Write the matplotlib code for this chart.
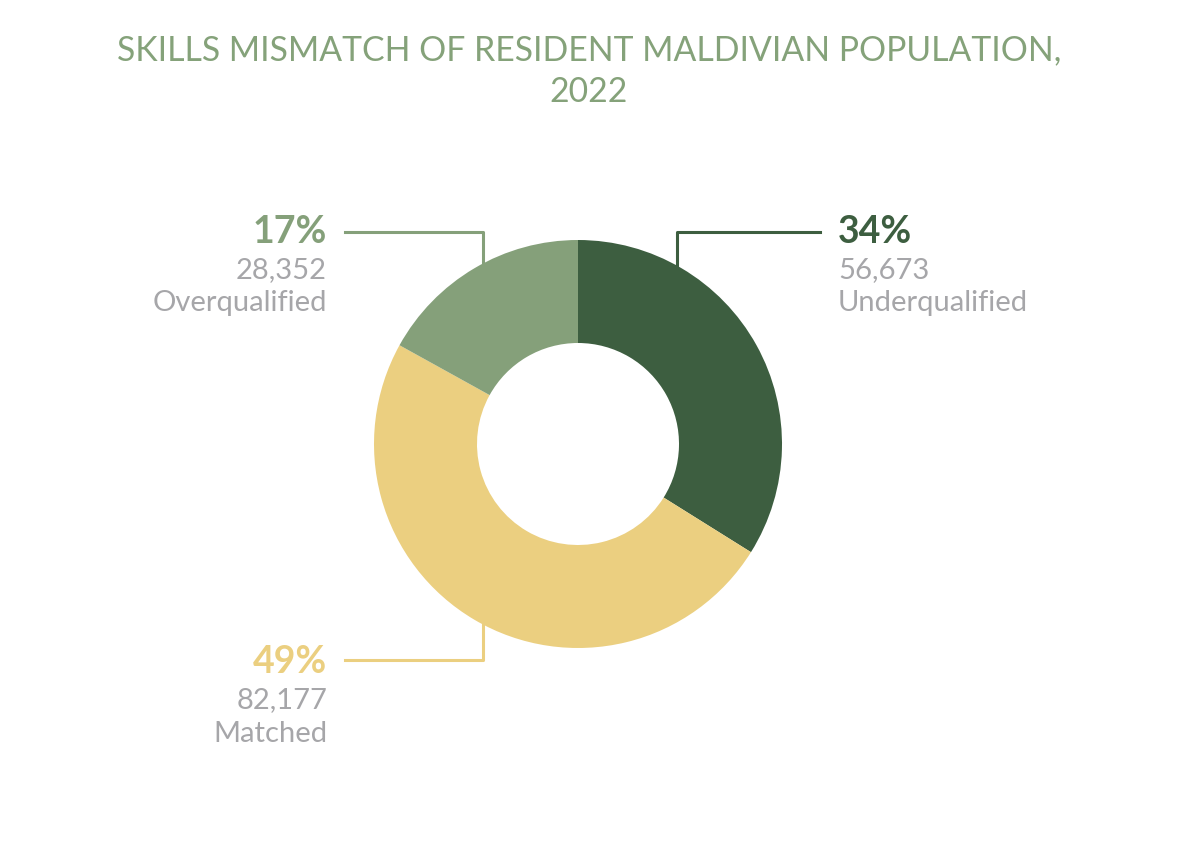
import matplotlib.pyplot as plt

# Дані діаграми
categories = ['Underqualified', 'Matched', 'Overqualified']
counts = [56673, 82177, 28352]
shares = [34, 49, 17]
colors = ['#3d5e40', '#ebcf80', '#85a07a']

plt.rcParams['font.family'] = ['Lato', 'DejaVu Sans']

W, H = 1178, 841
fig = plt.figure(figsize=(W / 100, H / 100), dpi=100)
ax = fig.add_axes([0, 0, 1, 1])

cx, cy, r = 578, H - 444, 204
ax.pie(counts, colors=colors, startangle=90, counterclock=False,
       center=(cx, cy), radius=r, frame=True,
       wedgeprops=dict(width=103, linewidth=0))
ax.set_xlim(0, W)
ax.set_ylim(0, H)
ax.set_aspect('equal')
ax.axis('off')

# заголовок
fig.text(0.5, 1 - 71 / H, 'SKILLS MISMATCH OF RESIDENT MALDIVIAN POPULATION,\n2022',
         ha='center', va='center', fontsize=24.3, color='#85a27a', linespacing=1.35)

# лінії-виноски та підписи
gray = '#a6a6a9'
lw = 2.2
big, small = 27, 21
# Overqualified
ax.plot([345, 483, 483], [H - 232, H - 232, H - 265], color=colors[2], lw=lw)
ax.text(327, H - 232, f'{shares[2]}%', ha='right', va='center', fontsize=big,
        fontweight='bold', color=colors[2])
ax.text(327, H - 270, f'{counts[2]:,}', ha='right', va='center', fontsize=small, color=gray)
ax.text(327, H - 303, categories[2], ha='right', va='center', fontsize=small, color=gray)
# Underqualified
ax.plot([677, 677, 820], [H - 266, H - 232, H - 232], color=colors[0], lw=lw)
ax.text(838, H - 232, f'{shares[0]}%', ha='left', va='center', fontsize=big,
        fontweight='bold', color=colors[0])
ax.text(838, H - 270, f'{counts[0]:,}', ha='left', va='center', fontsize=small, color=gray)
ax.text(838, H - 303, categories[0], ha='left', va='center', fontsize=small, color=gray)
# Matched
ax.plot([483, 483, 345], [H - 623, H - 660, H - 660], color=colors[1], lw=lw)
ax.text(327, H - 662, f'{shares[1]}%', ha='right', va='center', fontsize=big,
        fontweight='bold', color=colors[1])
ax.text(327, H - 700, f'{counts[1]:,}', ha='right', va='center', fontsize=small, color=gray)
ax.text(327, H - 734, categories[1], ha='right', va='center', fontsize=small, color=gray)

fig.savefig('out.png', dpi=100, facecolor='white')
